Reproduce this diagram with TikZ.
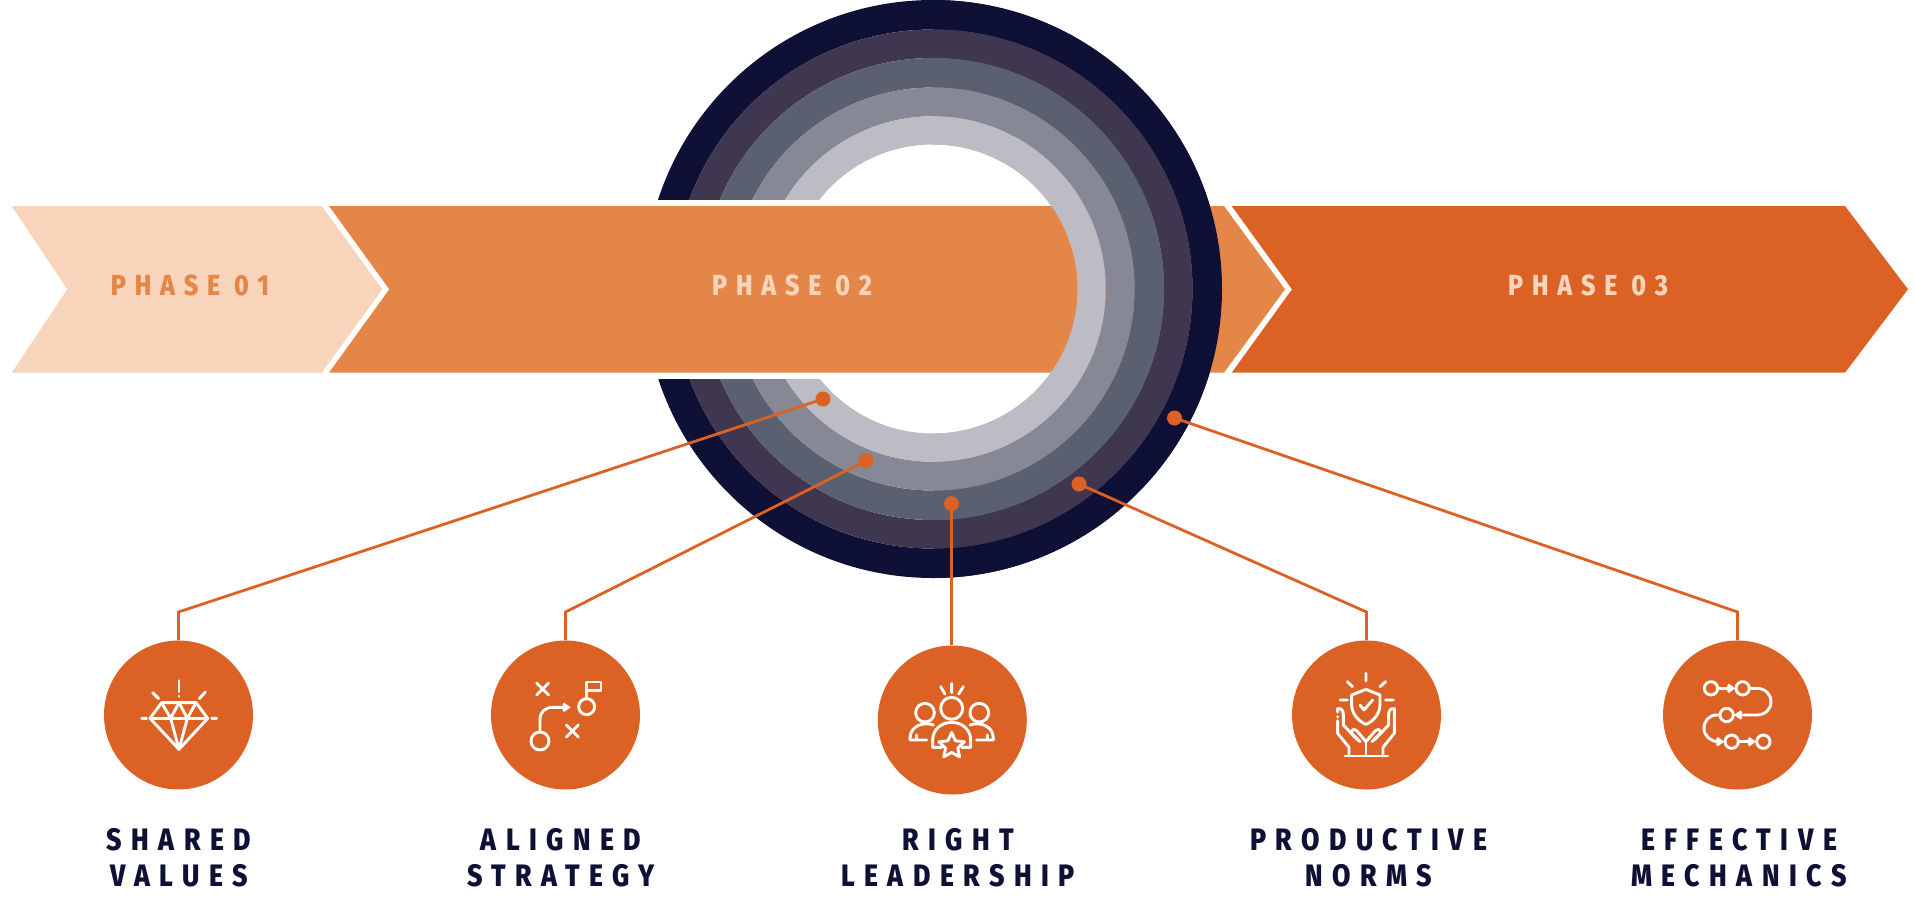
\documentclass[tikz,border=0pt]{standalone}
\usepackage{fontspec}
\usepackage{tikz}
\usetikzlibrary{arrows.meta,shapes.geometric}
\newfontfamily\capsfont[FakeStretch=0.86,LetterSpace=30.5,BoldFont={Fira Sans ExtraBold}]{Fira Sans}
\definecolor{peach}{HTML}{F8D4BB}
\definecolor{amber}{HTML}{E58649}
\definecolor{rust}{HTML}{DB6224}
\definecolor{ink}{HTML}{0F1035}
\definecolor{ringa}{HTML}{3F3750}
\definecolor{ringb}{HTML}{5A6070}
\definecolor{ringc}{HTML}{868896}
\definecolor{ringd}{HTML}{BDBBC3}
\newcommand{\ringset}{%
  \foreach \rout/\rin/\col in {289/259.5/ink,259.5/231/ringa,231/201.5/ringb,201.5/172.7/ringc,172.7/144.5/ringd}
    \fill[\col,even odd rule] (hub) circle[radius=\rout] circle[radius=\rin];}
\begin{document}
\begin{tikzpicture}[x=1pt,y=-1pt,>={Straight Barb[length=5pt,width=7pt]},
  phasetext/.style={font=\capsfont\bfseries\fontsize{29}{29}\selectfont,inner sep=0pt},
  nametext/.style={font=\capsfont\bfseries\fontsize{31}{36}\selectfont,text=ink,align=center,inner sep=0pt},
  disc/.style={circle,fill=rust,minimum size=149pt,inner sep=0pt},
  dot/.style={circle,fill=rust,minimum size=15pt,inner sep=0pt},
  link/.style={rust,line width=2.8pt},
  glyph/.style={x=0.3333pt,y=-0.3333pt,draw=white,line width=2.9pt,line cap=round,line join=round}]
\useasboundingbox (0,0) rectangle (1915,900);
\coordinate (hub) at (933,289);
\ringset
\fill[white] (500,200) rectangle (933,379);
\fill[peach] (11.7,206) -- (321.7,206) -- (382.3,289.3) -- (321.7,372.7) -- (11.7,372.7) -- (67.3,289.3) -- cycle;
\fill[amber] (329,206) -- (1224,206) -- (1285,289.3) -- (1224,372.7) -- (329,372.7) -- (389.3,289.3) -- cycle;
\fill[rust] (1231.7,206) -- (1845,206) -- (1908,289.3) -- (1845,372.7) -- (1231.7,372.7) -- (1292,289.3) -- cycle;
\begin{scope}
\clip (933,0) rectangle (1240,600);
\ringset
\end{scope}
\node[phasetext,text=amber] (phase1) at (190,285.5) {PHASE\hspace{14pt}01};
\node[phasetext,text=peach] (phase2) at (792,285.5) {PHASE\hspace{14pt}02};
\node[phasetext,text=peach] (phase3) at (1588,285.5) {PHASE\hspace{14pt}03};
\node[disc] (disc1) at (178.5,715) {};
\node[disc] (disc2) at (565.5,715) {};
\node[disc] (disc3) at (952.3,720) {};
\node[disc] (disc4) at (1366.5,715) {};
\node[disc] (disc5) at (1737.5,715) {};
\node[dot] (dot1) at (823,399) {};
\node[dot] (dot2) at (866,460.7) {};
\node[dot] (dot3) at (951.5,503.7) {};
\node[dot] (dot4) at (1079,484) {};
\node[dot] (dot5) at (1174.5,418) {};
\coordinate (bend1) at (178.5,612);
\coordinate (bend2) at (565.5,612);
\coordinate (bend4) at (1366.5,612);
\coordinate (bend5) at (1737.5,612);
\draw[link] (dot1.center) -- (bend1) -- (disc1.north);
\draw[link] (dot2.center) -- (bend2) -- (disc2.north);
\draw[link] (dot3.center) -- (dot3.center |- disc3.north);
\draw[link] (dot4.center) -- (bend4) -- (disc4.north);
\draw[link] (dot5.center) -- (bend5) -- (disc5.north);
\node[nametext] (name1) at (179,858) {SHARED\\VALUES};
\node[nametext] (name2) at (561,858) {ALIGNED\\STRATEGY};
\node[nametext] (name3) at (958,858) {RIGHT\\LEADERSHIP};
\node[nametext] (name4) at (1369,858) {PRODUCTIVE\\NORMS};
\node[nametext] (name5) at (1739,858) {EFFECTIVE\\MECHANICS};
% diamond
\begin{scope}[shift={(130,670)},glyph]
\draw (95,98) -- (198,98) -- (233,145) -- (147,238) -- (60,145) -- cycle;
\draw (60,145) -- (233,145);
\draw (95,98) -- (122,145) -- (147,98) -- (172,145) -- (198,98);
\draw (122,145) -- (147,238) -- (172,145);
\draw (147,32) -- (147,65) (147,78) -- (147,79);
\draw (68,68) -- (86,86) (226,66) -- (208,86) (35,145) -- (50,145) (245,145) -- (260,145);
\end{scope}
% playbook
\begin{scope}[shift={(520,670)},glyph]
\draw (60,213) circle[radius=27];
\draw (200,110) circle[radius=24];
\draw (200,86) -- (200,36) -- (243,36) -- (243,62) -- (200,62);
\draw[->] (60,186) -- (60,150) .. controls (60,125) and (75,112) .. (100,112) -- (152,112);
\draw (50,39) -- (86,75) (86,39) -- (50,75);
\draw (139,165) -- (175,201) (175,165) -- (139,201);
\end{scope}
% team
\begin{scope}[shift={(900,670)},glyph]
\draw (155,115) circle[radius=33];
\draw (75,128) circle[radius=28];
\draw (238,128) circle[radius=28];
\draw (155,40) -- (155,68) (122,50) -- (135,72) (190,50) -- (176,72);
\draw (125,232) -- (98,232) -- (98,210) .. controls (98,178) and (125,157) .. (155,157) .. controls (185,157) and (212,178) .. (212,210) -- (212,232) -- (185,232);
\draw (100,165) .. controls (75,155) and (30,165) .. (30,205) -- (30,210) -- (80,210) (50,195) -- (50,210);
\draw (210,165) .. controls (235,155) and (280,165) .. (280,205) -- (280,210) -- (230,210) (262,195) -- (262,210);
\node[star,star points=5,star point ratio=2.1,draw=white,fill=rust,minimum size=27pt,inner sep=0pt] (star3) at (155,228) {};
\end{scope}
% shield and hands
\begin{scope}[shift={(1315,670)},glyph]
\draw (153,10) -- (153,33) (97,35) -- (113,50) (212,35) -- (195,50) (75,90) -- (97,90) (212,90) -- (235,90);
\draw (153,58) -- (195,75) -- (195,105) .. controls (195,130) and (175,155) .. (153,163) .. controls (131,155) and (110,130) .. (110,105) -- (110,75) -- cycle;
\draw (135,105) -- (147,120) -- (173,90);
\draw (90,258) -- (218,258) (153,258) -- (153,215);
\draw (68,152) -- (68,190) -- (102,232) -- (102,258) (68,140) -- (68,141);
\draw (68,126) -- (68,116) .. controls (80,114) and (85,122) .. (85,135) -- (85,165) -- (128,210);
\draw (153,215) -- (125,182) .. controls (120,176) and (112,176) .. (108,188) -- (135,215);
\draw (238,190) -- (238,116) .. controls (226,114) and (221,122) .. (221,135) -- (221,165) -- (178,210);
\draw (238,190) -- (204,232) -- (204,258);
\draw (153,215) -- (181,182) .. controls (186,176) and (194,176) .. (198,188) -- (171,215);
\end{scope}
% process
\begin{scope}[shift={(1690,670)},glyph]
\foreach \px/\py in {63/55,158/55,110/135,125/215,220/215}
  \draw (\px,\py) circle[radius=20];
\draw[->] (83,55) -- (136,55);
\draw[->] (178,55) -- (200,55) .. controls (225,55) and (243,72) .. (243,95) .. controls (243,118) and (225,135) .. (200,135) -- (132,135);
\draw[->] (90,135) -- (80,135) .. controls (58,135) and (42,152) .. (42,175) .. controls (42,198) and (62,215) .. (85,215) -- (103,215);
\draw[->] (145,215) -- (198,215);
\end{scope}
\end{tikzpicture}
\end{document}
